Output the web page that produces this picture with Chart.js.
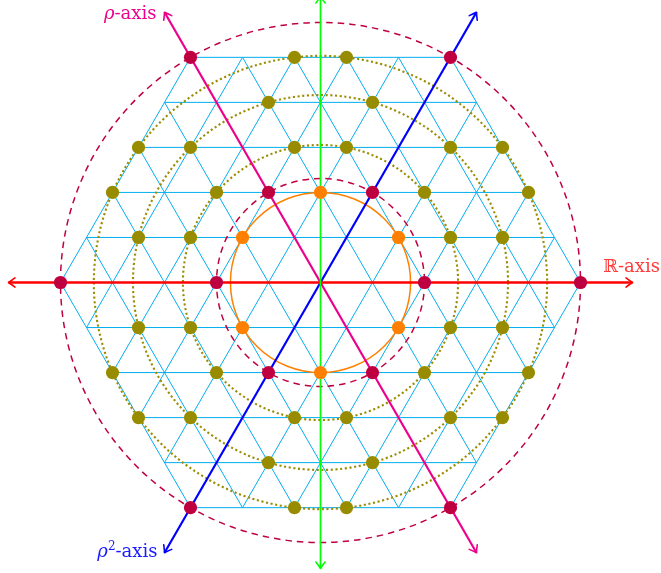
<!DOCTYPE html>
<html><head><meta charset="utf-8">
<script src="https://cdn.jsdelivr.net/npm/chart.js@4.4.0/dist/chart.umd.min.js"></script>
<style>html,body{margin:0;padding:0;background:#fff;overflow:hidden}canvas{display:block}</style>
</head><body>
<canvas id="c" width="661" height="573"></canvas>
<script>
// ---- data (lattice points as [col,row]; x = col/2, y = row*sqrt(3)/2) ----
const purplePoints = [[4,0],[-4,0],[10,0],[-10,0],[2,2],[-2,2],[2,-2],[-2,-2],[5,5],[-5,5],[5,-5],[-5,-5]];
const orangePoints = [[0,2],[0,-2],[3,1],[-3,1],[3,-1],[-3,-1]];
const olivePoints7  = [[4,2],[-4,2],[4,-2],[-4,-2],[5,1],[-5,1],[5,-1],[-5,-1],[1,3],[-1,3],[1,-3],[-1,-3]];
const olivePoints13 = [[2,4],[-2,4],[2,-4],[-2,-4],[5,3],[-5,3],[5,-3],[-5,-3],[7,1],[-7,1],[7,-1],[-7,-1]];
const olivePoints19 = [[1,5],[-1,5],[1,-5],[-1,-5],[7,3],[-7,3],[7,-3],[-7,-3],[8,2],[-8,2],[8,-2],[-8,-2]];
const dashedNorms = [4, 25];        // circles |z|^2 = 4, 25
const dottedNorms = [7, 13, 19];    // circles |z|^2 = 7, 13, 19
const solidNorms  = [3];            // circle |z|^2 = 3
const gridRows = [-5,-4,-3,-2,-1,0,1,2,3,4,5];
const hexRadius = 5;
const gridAngles = [0, 60, 120];
const axisReal = [[-6,0],[6,0]];
const axisImag = [[0,-5.5],[0,5.5]];
const axisRho  = [[-6,120],[6,120]];  // [t, angle]: t*e^{i angle}
const axisRho2 = [[-6,240],[6,240]];

const H = Math.sqrt(3)/2;
const toXY = p => ({x: p[0]/2, y: p[1]*H});
const polar = p => ({x: p[0]*Math.cos(p[1]*Math.PI/180), y: p[0]*Math.sin(p[1]*Math.PI/180)});

// grid segments: horizontal rows clipped to hexagon, rotated by 60 and 120 degrees
const gridData = [];
gridAngles.forEach(a => {
  const c = Math.cos(a*Math.PI/180), s = Math.sin(a*Math.PI/180);
  gridRows.forEach(k => {
    const y = k*H, hx = hexRadius - Math.abs(k)/2;
    [[-hx,y],[hx,y]].forEach(([px,py]) => gridData.push({x: px*c - py*s, y: px*s + py*c}));
    gridData.push({x: null, y: null});
  });
});

const U = 52; // px per unit
const circlesPlugin = {
  id: 'circles',
  afterDatasetDraw(chart, args) {
    const ds = chart.data.datasets[args.index];
    const ctx = chart.ctx, xs = chart.scales.x, ys = chart.scales.y;
    if (ds.isGrid) {
      const cx = xs.getPixelForValue(0), cy = ys.getPixelForValue(0);
      const k = xs.getPixelForValue(1) - cx;
      ctx.save();
      ctx.lineCap = 'butt';
      ctx.strokeStyle = '#9a8c00'; ctx.lineWidth = 2.1; ctx.setLineDash([2.1, 2.6]);
      dottedNorms.forEach(n => { ctx.beginPath(); ctx.arc(cx, cy, Math.sqrt(n)*k, 0, 2*Math.PI); ctx.stroke(); });
      ctx.strokeStyle = '#BF0040'; ctx.lineWidth = 1.5; ctx.setLineDash([6.5, 5]);
      dashedNorms.forEach(n => { ctx.beginPath(); ctx.arc(cx, cy, Math.sqrt(n)*k, 0, 2*Math.PI); ctx.stroke(); });
      ctx.strokeStyle = '#FF8000'; ctx.lineWidth = 1.5; ctx.setLineDash([]);
      solidNorms.forEach(n => { ctx.beginPath(); ctx.arc(cx, cy, Math.sqrt(n)*k, 0, 2*Math.PI); ctx.stroke(); });
      ctx.restore();
    }
    if (ds.arrows) {
      const pts = args.meta.data;
      const drawHead = (tip, from) => {
        const ang = Math.atan2(tip.y - from.y, tip.x - from.x);
        ctx.save();
        ctx.translate(tip.x, tip.y); ctx.rotate(ang);
        ctx.strokeStyle = ds.borderColor; ctx.lineWidth = 1.6; ctx.lineCap = 'round'; ctx.lineJoin = 'round';
        const L = 6.5, W = 4.6;
        ctx.beginPath();
        ctx.moveTo(-L, -W);
        ctx.quadraticCurveTo(-L*0.3, -W*0.25, 0, 0);
        ctx.quadraticCurveTo(-L*0.3, W*0.25, -L, W);
        ctx.stroke();
        ctx.restore();
      };
      drawHead(pts[0], pts[1]);
      drawHead(pts[1], pts[0]);
    }
  },
  afterDraw(chart) {
    const ctx = chart.ctx, xs = chart.scales.x, ys = chart.scales.y;
    const F = '"DejaVu Serif", "Liberation Serif", serif';
    const draw = (parts, x, y, align, color) => {
      ctx.save();
      ctx.fillStyle = color; ctx.textBaseline = 'alphabetic'; ctx.textAlign = 'left';
      let w = 0;
      parts.forEach(p => { ctx.font = p.f; p.w = ctx.measureText(p.t).width; w += p.w; });
      let cx = align === 'right' ? x - w : x;
      parts.forEach(p => { ctx.font = p.f; ctx.fillText(p.t, cx, y + (p.dy || 0)); cx += p.w; });
      ctx.restore();
    };
    const px = p => ({x: xs.getPixelForValue(p.x), y: ys.getPixelForValue(p.y)});
    const a = px(polar(axisRho[1]));           // top-left tip of rho-axis
    const b = px(polar(axisRho2[1]));          // bottom-left tip of rho^2-axis
    const c = px({x: axisReal[1][0], y: axisReal[1][1]});
    draw([{t:'ρ', f:'italic 18px '+F}, {t:'-axis', f:'18px '+F}], a.x - 8, a.y + 6.5, 'right', '#EC008C');
    draw([{t:'ρ', f:'italic 18px '+F}, {t:'2', f:'12px '+F, dy:-7.5}, {t:'-axis', f:'18px '+F}], b.x - 7, b.y + 4.5, 'right', '#1a1aff');
    draw([{t:'ℝ-axis', f:'18px '+F}], c.x - 29.5, c.y - 10.8, 'left', '#ff3b3b');
  }
};

const axisDs = (pts, color, w) => ({
  data: pts, showLine: true, borderColor: color, borderWidth: w, pointRadius: 0, arrows: true, order: 5
});
const pointDs = (pts, color) => ({
  data: pts.map(toXY), showLine: false, pointRadius: 6.6, pointBackgroundColor: color,
  pointBorderWidth: 0, pointBorderColor: color, order: 1
});

new Chart(document.getElementById('c'), {
  type: 'scatter',
  data: { datasets: [
    { data: gridData, showLine: true, borderColor: '#00AEEF', borderWidth: 1, pointRadius: 0, spanGaps: false, isGrid: true, order: 100 },
    axisDs(axisImag.map(p => ({x: p[0], y: p[1]})), '#00FF00', 1.7),
    axisDs(axisReal.map(p => ({x: p[0], y: p[1]})), '#FF0000', 2.4),
    axisDs(axisRho.map(polar), '#EC008C', 2.2),
    axisDs(axisRho2.map(polar), '#0000FF', 2.2),
    pointDs(orangePoints, '#FF8000'),
    pointDs(olivePoints7, '#978b00'),
    pointDs(olivePoints13, '#978b00'),
    pointDs(olivePoints19, '#978b00'),
    pointDs(purplePoints, '#BF0040')
  ]},
  options: {
    responsive: false, animation: false, events: [],
    layout: { padding: 0, autoPadding: false },
    plugins: { legend: { display: false }, tooltip: { enabled: false } },
    scales: {
      x: { type: 'linear', min: -320.5/U, max: 340.5/U, display: false },
      y: { type: 'linear', min: -290.5/U, max: 282.5/U, display: false }
    }
  },
  plugins: [circlesPlugin]
});
</script>
</body></html>
